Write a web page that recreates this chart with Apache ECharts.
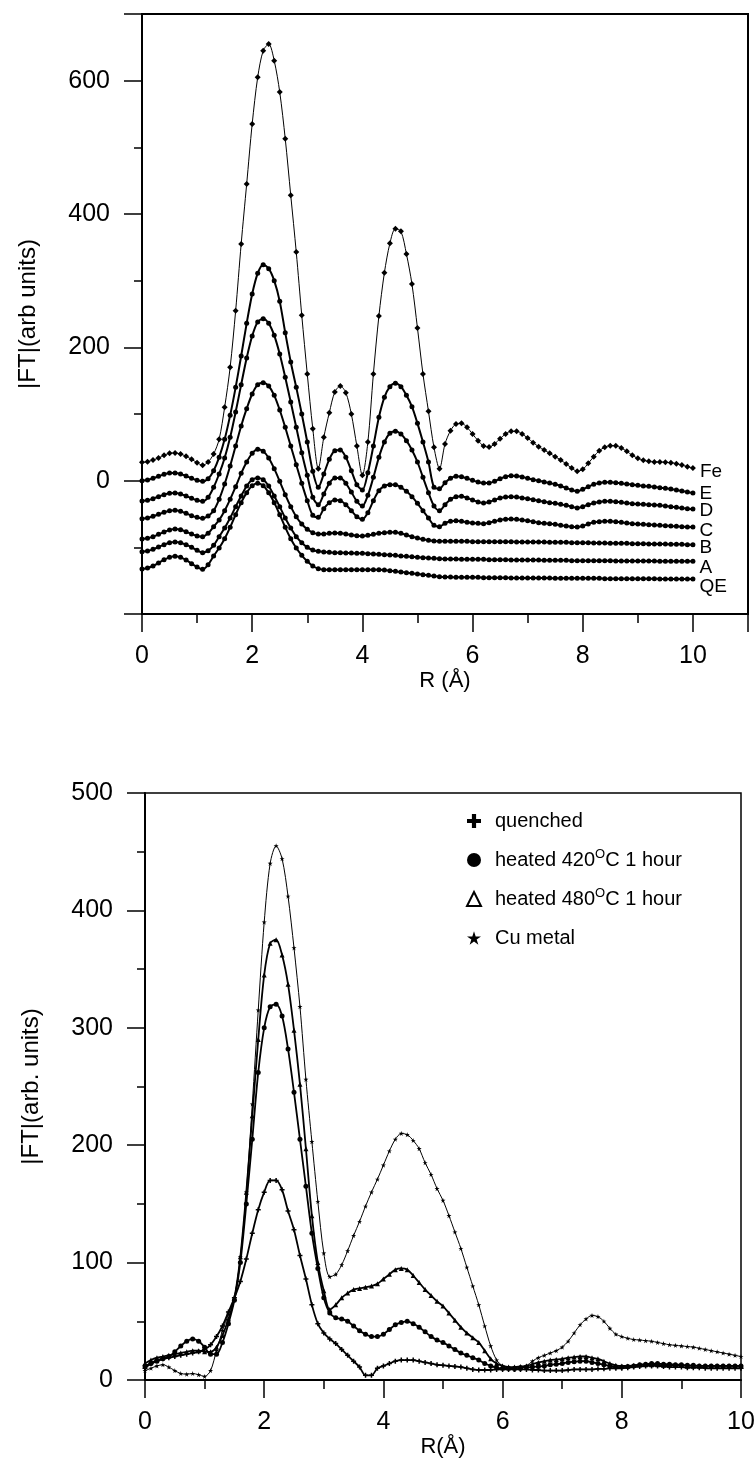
<!DOCTYPE html>
<html><head><meta charset="utf-8">
<script src="https://cdn.jsdelivr.net/npm/echarts@6/dist/echarts.min.js"></script>
<style>html,body{margin:0;padding:0;background:#fff}#c{width:756px;height:1461px}</style>
</head><body><div id="c"></div>
<script>
// R grid (Å)
const R = [0,0.1,0.2,0.3,0.4,0.5,0.6,0.7,0.8,0.9,1,1.1,1.2,1.3,1.4,1.5,1.6,1.7,1.8,1.9,2,2.1,2.2,2.3,2.4,2.5,2.6,2.7,2.8,2.9,3,3.1,3.2,3.3,3.4,3.5,3.6,3.7,3.8,3.9,4,4.1,4.2,4.3,4.4,4.5,4.6,4.7,4.8,4.9,5,5.1,5.2,5.3,5.4,5.5,5.6,5.7,5.8,5.9,6,6.1,6.2,6.3,6.4,6.5,6.6,6.7,6.8,6.9,7,7.1,7.2,7.3,7.4,7.5,7.6,7.7,7.8,7.9,8,8.1,8.2,8.3,8.4,8.5,8.6,8.7,8.8,8.9,9,9.1,9.2,9.3,9.4,9.5,9.6,9.7,9.8,9.9,10];

// ---- Top panel (offset curves) ----
const topNames = ['Fe','E','D','C','B','A','QE'];
const Fe = [27.5,28.5,31,34,38,41,41.5,40,36.5,32,27,
 23,28,40,62,110,170,255,355,445,535,
 605,645,655,630,583,513,428,343,248,160,
 78,18,65,102,133,142,132,100,52,8,
 58,160,247,312,356,378,374,340,295,229,
 160,104,50,18,55,75,85,86,80,70,
 60,52,50.5,55,63,70,74,74,70,64,
 57,51,46,41,36,31,25,19,14,17,
 26,36,45,50,52.5,52.5,49,44,38,33.5,
 30.5,29,28,28,27.5,27,25.5,23.5,21,19];
const E = [0,1,3.5,6.5,9.5,11.5,11.5,10,7,3.5,0.5,
 -1,3,15,35,62,98,140,187,236,280,
 311,324,318,300,269,222,178,140,100,58,
 14,-10,10,32,45,46,35,15,-6,-14,
 12,52,95,125,141,146,141,128,111,86,
 58,28,-10,-12,-3,3.5,6.5,6,3.5,0.5,
 -2,-3.5,-3.5,-1,3,6,7.5,7,5.5,3.5,
 1.5,0,-2,-3.5,-5.5,-8,-11,-14,-16,-13,
 -9,-5.5,-3.5,-2.5,-2.5,-3,-4,-5,-6,-7,
 -8,-8.5,-9.5,-10.5,-11.5,-12.5,-14,-15.5,-17,-18.5];
const D = [-30.5,-29.5,-27,-24,-21,-19,-18.5,-20,-23,-26.5,-29.5,
 -31,-25,-10,10,34,65,103,144,184,217,
 238,243,236,218,190,155,118,80,42,8,
 -25,-36,-20,-4,4,4,-4,-17,-31,-38,
 -22,5,35,58,71,74,70,60,46,28,
 5,-18,-38,-45,-36,-28,-24,-23.5,-26,-29,
 -32,-33.5,-32,-29,-26,-24.5,-24,-24.5,-26,-27,
 -28.5,-30,-31.5,-33,-34,-35.5,-37,-39,-41,-39,
 -36,-33.5,-32,-31,-31,-31.5,-32.5,-33.5,-34.5,-35,
 -35.5,-36,-36.5,-37,-38,-39,-40,-41,-42,-42.5];
const C = [-57,-56,-53.5,-50.5,-47.5,-45,-44.5,-46,-49,-52.5,-55,
 -56.5,-53,-45,-28,-5,22,52,82,108,130,
 144,147,142,128,106,80,52,24,-4,-30,
 -52,-55,-42,-33,-29,-30,-36,-45,-54,-58,
 -48,-30,-15,-8,-6,-6,-10,-16,-24,-34,
 -45,-56,-67,-69,-64,-61,-60,-61,-62.5,-63.5,
 -64,-64.5,-63,-61,-59,-58,-57.5,-58,-59,-60,
 -61.5,-63,-64,-64.5,-65.5,-67,-68,-69,-69.5,-68,
 -65,-62.5,-61.5,-61,-61,-61.5,-62.5,-63.5,-64.5,-65,
 -65.5,-66,-66.5,-67,-67.5,-68,-68.5,-69,-69.5,-69.5];
const B = [-87.5,-86.5,-84,-80.5,-77,-74,-72.5,-73.5,-76.5,-80,-83,
 -84,-79,-69,-59,-45,-28,-9,11,28,41,
 47,44,34,18,-1,-21,-39,-54,-65,-73,
 -78,-80,-80,-79,-78.5,-79,-80,-81.5,-82.5,-83,
 -82,-80.5,-79,-78,-77.5,-77.5,-79,-81.5,-84,-86,
 -88,-89.5,-90.5,-91,-91,-91,-91,-91,-91,-91.5,
 -91.5,-91.5,-91.5,-91.5,-91.5,-91.5,-91.5,-92,-92,-92,
 -92,-92,-92,-92.5,-92.5,-92.5,-92.5,-93,-93,-93,
 -93,-93.5,-93.5,-93.5,-94,-94,-94,-94,-94.5,-94.5,
 -94.5,-95,-95,-95,-95,-95.5,-95.5,-95.5,-96,-96];
const A = [-106.5,-105.5,-103,-99.5,-96,-93,-92,-93,-96,-100,-104.5,
 -108,-105,-97,-84,-71,-56,-39,-23,-8,1.5,
 4,1.5,-8,-23,-39,-56,-71,-84,-93,-100,
 -104,-106,-107,-107.5,-108,-108,-108.5,-108.5,-109,-109,
 -109.5,-110,-110.5,-111,-111.5,-112,-113,-113.5,-114,-115,
 -115.5,-116,-116.5,-117,-117.5,-117.5,-117.5,-118,-118,-118,
 -118,-118,-118.5,-118.5,-118.5,-118.5,-119,-119,-119,-119,
 -119,-119,-119.5,-119.5,-119.5,-119.5,-119.5,-120,-120,-120,
 -120,-120,-120,-120,-120,-120.5,-120.5,-120.5,-120.5,-120.5,
 -120.5,-120.5,-120.5,-121,-121,-121,-121,-121,-121,-121];
const QE = [-132.5,-131,-128,-123.5,-118.5,-115,-113.5,-115,-119,-124.5,-129.5,
 -133,-126,-113,-101,-87,-70,-51,-33,-18,-7.5,
 -4,-7.5,-18,-33,-51,-70,-87,-101,-112,-121,
 -128,-132,-133.5,-133.5,-133.5,-133.5,-133.5,-133.5,-133.5,-133.5,
 -133.5,-133.5,-133.5,-134,-135,-136,-137,-138,-139,-140,
 -141,-142,-143,-144,-144.5,-144.5,-145,-145,-145,-145,
 -145,-145.5,-145.5,-145.5,-145.5,-145.5,-146,-146,-146,-146,
 -146,-146,-146,-146,-146.5,-146.5,-146.5,-146.5,-146.5,-146.5,
 -146.5,-146.5,-146.5,-147,-147,-147,-147,-147,-147,-147,
 -147,-147,-147,-147.5,-147.5,-147.5,-147.5,-147.5,-147.5,-147.5];
const topSeriesVals = [Fe,E,D,C,B,A,QE];
const topTickLabels = [0,200,400,600];
const topXLabels = [0,2,4,6,8,10];

// ---- Bottom panel ----
const botNames = ['quenched','heated 420°C 1 hour','heated 480°C 1 hour','Cu metal'];
const quenched = [10,14,17,18,19,20,21,22,23,24,26,
 30,37,46,58,70,84,103,125,145,160,
 170,170,162,144,128,106,86,64,48,40,
 35,31,26,21,16,11,4,4,10,12,
 14,16,17,17,17,16,15,14,13,12.5,
 12,11.5,11,10,9,8.5,8.5,8.5,9,9,
 9,9,9,9,8.5,8.5,8,8,8,8,
 8.5,9,9,9,9,9.5,9.5,10,10,10,
 10.5,11,11.5,12,12,12,11.5,11,11,11,
 10.5,10.5,10.5,10,10,10,10,10,10,10];
const heated420 = [12,14,16,18,20,24,29,33,35,33,28,
 22,22,32,48,68,100,150,205,262,300,
 318,320,310,282,245,205,165,125,95,70,
 57,53,52,50,46,42,39,37,37,39,
 43,47,49,50,48,45,41,37,34,32,
 29,26,23,21,19,17,14,12,10.5,10,
 10,10,10.5,11,11,11.5,12,13,13.5,14,
 15,15.5,16,16,15,14,13,12,11,11,
 11.5,12,13,13.5,14,14,13.5,13.5,13,13,
 12.5,12.5,12,12,12,12,12,12,12,12];
const heated480 = [14,17,19,20,21,22,23,24,25,25,24,
 24,28,38,52,70,105,160,225,290,345,
 372,375,362,337,298,252,197,140,100,76,
 60,64,70,74,77,78,79,80,82,86,
 90,94,95,94,89,83,77,72,67,63,
 57,51,45,40,36,32,25,18,14,12,
 11,11,11.5,12,13.5,15,16,17,17.5,18,
 19,19.5,20,20,19,18,16,14,12.5,12,
 12,12.5,13,13,13,13,12.5,12.5,12.5,12.5,
 12,12,12,12,12,12,12,12,12,12];
const cuMetal = [8,10,12,13,11,8,5.5,5,5.5,4.5,3,
 8,25,42,56,70,105,160,235,315,390,
 440,455,444,412,368,318,256,203,152,108,
 88,90,98,110,123,135,148,160,171,183,
 195,205,210,209,204,197,185,175,163,153,
 140,126,112,96,80,64,46,29,17,12,
 10,9,9.5,12,16,19,21,23,25,28,
 33,40,47,52,55,54,50,44,39,37,
 35.5,34.5,34,33.5,33,32,31,30,29.5,29,
 28.5,28,27,26,25,24,23,22,21,20];
const botSeriesVals = [quenched,heated420,heated480,cuMetal];
const botTickLabels = [0,100,200,300,400,500];
const botXLabels = [0,2,4,6,8,10];

// ---- styling (not data) ----
const FONT = '"Liberation Sans", Arial, Helvetica, sans-serif';
const PLUS = 'path://M3.5,0H6.5V3.5H10V6.5H6.5V10H3.5V6.5H0V3.5H3.5Z';
const STAR = 'path://M5,0L6.2,3.6L10,3.6L6.9,5.8L8.1,9.5L5,7.2L1.9,9.5L3.1,5.8L0,3.6L3.8,3.6Z';
const labelDy = [4,1,2,4,3,6,8];
const botSymbols = [PLUS,'circle','triangle',STAR];
const botIcons = [PLUS,'circle','emptyTriangle',STAR];

const lineAx = {show:true, onZero:false, lineStyle:{color:'#000', width:2}};
function xMinor(grid,max){return {type:'value',gridIndex:grid,position:'bottom',min:0,max:max,interval:1,
  axisLine:lineAx, axisTick:{show:true,length:9,lineStyle:{color:'#000',width:1.5}},
  axisLabel:{show:false}, splitLine:{show:false}};}
function xMajor(grid,max,labels,name,gap){return {type:'value',gridIndex:grid,position:'bottom',min:0,max:max,interval:2,
  axisLine:{show:false,onZero:false}, axisTick:{show:true,length:18,lineStyle:{color:'#000',width:1.5}},
  axisLabel:{margin:30,color:'#000',fontSize:25,fontFamily:FONT,
    formatter:v=>labels.includes(v)?String(v):''},
  splitLine:{show:false}, name:name, nameLocation:'middle', nameGap:gap,
  nameTextStyle:{color:'#000',fontSize:22,fontFamily:FONT}};}
function yMinor(grid,min,max,iv){return {type:'value',gridIndex:grid,position:'left',min:min,max:max,interval:iv,
  axisLine:lineAx, axisTick:{show:true,length:8,lineStyle:{color:'#000',width:1.5}},
  axisLabel:{show:false}, splitLine:{show:false}};}
function yMajor(grid,min,max,iv,labels,name){return {type:'value',gridIndex:grid,position:'left',min:min,max:max,interval:iv,
  axisLine:{show:false,onZero:false}, axisTick:{show:true,length:18,lineStyle:{color:'#000',width:1.5}},
  axisLabel:{margin:32,color:'#000',fontSize:25,fontFamily:FONT,
    formatter:v=>labels.includes(v)?String(v):''},
  splitLine:{show:false}, name:name, nameLocation:'middle', nameGap:102, nameRotate:90,
  nameTextStyle:{color:'#000',fontSize:24,fontFamily:FONT}};}

const series = [];
topSeriesVals.forEach((vals,k)=>{
  const last = vals.length-1;
  const data = vals.map((v,i)=> i===last ? {value:[R[i],v], label:{show:true, position:'right', distance:4,
      offset:[0,labelDy[k]], formatter:topNames[k], color:'#000', fontSize:19, fontFamily:FONT}} : [R[i],v]);
  series.push({type:'line', name:topNames[k], xAxisIndex:0, yAxisIndex:0, data:data,
    symbol: k===0?'diamond':'circle', symbolSize: k===0?6:5, showSymbol:true,
    lineStyle:{color:'#000', width: k===0?1:2}, itemStyle:{color:'#000'}, smooth:0.3});
});
botSeriesVals.forEach((vals,k)=>{
  series.push({type:'line', name:botNames[k], xAxisIndex:2, yAxisIndex:2,
    data: vals.map((v,i)=>[R[i],v]), symbol:botSymbols[k], symbolSize:5,
    lineStyle:{color:'#000', width: k===3?1:1.8}, itemStyle:{color:'#000'}, smooth:0.3});
});

const chart = echarts.init(document.getElementById('c'), null, {renderer:'canvas'});
chart.setOption({
  animation:false,
  backgroundColor:'#fff',
  grid:[
    {left:142, top:14, width:606, height:600, show:true, borderColor:'#000', borderWidth:2, outerBoundsMode:'none', containLabel:false},
    {left:145, top:793, width:596, height:587, show:true, borderColor:'#000', borderWidth:1.5, outerBoundsMode:'none', containLabel:false}
  ],
  xAxis:[ xMinor(0,11), xMajor(0,11,topXLabels,'R (Å)',56), xMinor(1,10), xMajor(1,10,botXLabels,'R(Å)',52) ],
  yAxis:[ yMinor(0,-200,700,100), yMajor(0,-200,700,200,topTickLabels,'|FT|(arb units)'),
          yMinor(1,0,500,50), yMajor(1,0,500,100,botTickLabels,'|FT|(arb. units)') ],
  legend:{
    show:true, orient:'vertical', left:461, top:804, itemWidth:14, itemHeight:14, itemGap:15,
    selectedMode:false,
    data: botNames.map((n,k)=>({name:n, icon:botIcons[k], itemStyle:{color:'#000', borderColor:'#000', borderWidth: k===2?2:0}})),
    formatter: n => n.replace('°','{sup|O}'),
    textStyle:{color:'#000', fontSize:20, fontFamily:FONT, lineHeight:24, padding:[0,0,0,9],
      rich:{sup:{fontSize:13, lineHeight:13, verticalAlign:'top', fontFamily:FONT, color:'#000'}}}
  },
  series: series
});
</script></body></html>
